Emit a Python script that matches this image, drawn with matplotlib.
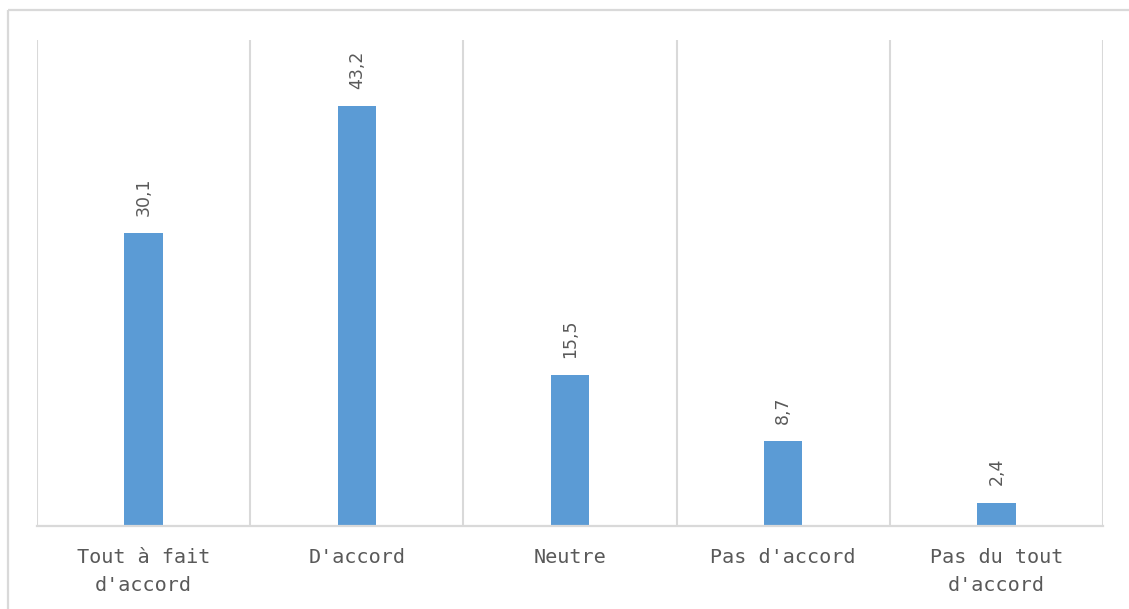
import matplotlib
matplotlib.use("Agg")
import matplotlib.pyplot as plt
from matplotlib.lines import Line2D

# Survey responses (percent)
categories = ["Tout à fait\nd'accord", "D'accord", "Neutre", "Pas d'accord", "Pas du tout\nd'accord"]
values = [30.1, 43.2, 15.5, 8.7, 2.4]
value_labels = ["30,1", "43,2", "15,5", "8,7", "2,4"]

BAR_COLOR = "#5B9BD5"
TEXT_COLOR = "#595959"
GRID_COLOR = "#D9D9D9"

W, H, DPI = 1129, 609, 100
fig = plt.figure(figsize=(W / DPI, H / DPI), dpi=DPI)
fig.patch.set_facecolor("white")

# Outer chart frame (top and left edges visible)
fig.add_artist(Line2D([8 / W, 1.0], [1 - 10 / H, 1 - 10 / H], transform=fig.transFigure,
                      color=GRID_COLOR, lw=1.6, solid_capstyle="butt"))
fig.add_artist(Line2D([8 / W, 8 / W], [0.0, 1 - 10 / H], transform=fig.transFigure,
                      color=GRID_COLOR, lw=1.6, solid_capstyle="butt"))

ax = fig.add_axes([37 / W, 83 / H, 1066 / W, 486 / H])
x = list(range(len(categories)))
bars = ax.bar(x, values, width=0.18, color=BAR_COLOR, zorder=3)

ax.set_xlim(-0.5, len(categories) - 0.5)
ax.set_ylim(0, 50)

# Category separators
ax.set_xticks([i - 0.5 for i in range(len(categories) + 1)], minor=True)
ax.grid(which="minor", axis="x", color=GRID_COLOR, lw=1.5, zorder=0)
ax.grid(which="major", visible=False)

ax.set_xticks(x)
ax.set_xticklabels(categories, family="DejaVu Sans Mono", fontsize=14.5,
                   color=TEXT_COLOR, linespacing=1.6)
ax.tick_params(axis="x", which="both", length=0, pad=16)
ax.set_yticks([])

for side in ["left", "right", "top"]:
    ax.spines[side].set_visible(False)
ax.spines["bottom"].set_color(GRID_COLOR)
ax.spines["bottom"].set_linewidth(1.6)
ax.spines["bottom"].set_zorder(4)

for rect, lab in zip(bars, value_labels):
    ax.annotate(lab, (rect.get_x() + rect.get_width() / 2, rect.get_height()),
                xytext=(0, 12.5), textcoords="offset points", rotation=90,
                ha="center", va="bottom", fontsize=12.5, color=TEXT_COLOR,
                family="DejaVu Sans")

fig.savefig("out.png", dpi=DPI, facecolor="white")
